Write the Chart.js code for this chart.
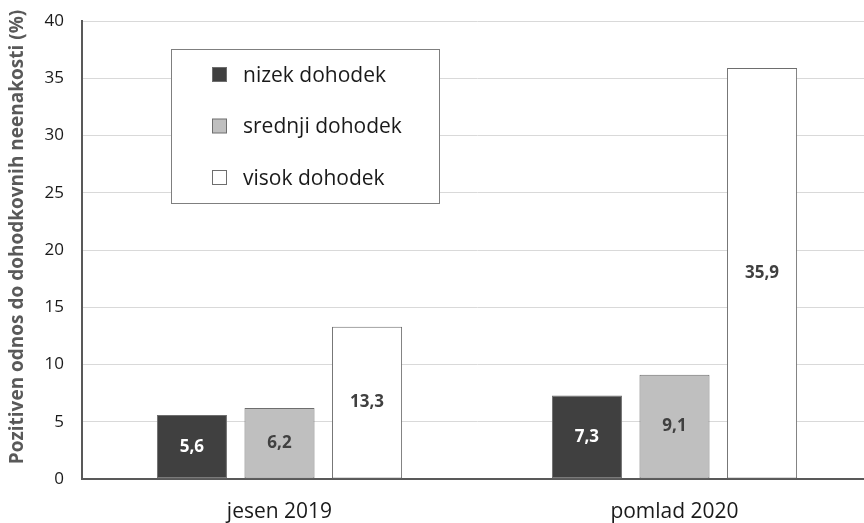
<!DOCTYPE html>
<html>
<head>
<meta charset="utf-8">
<script src="https://cdn.jsdelivr.net/npm/chart.js@4.4.0/dist/chart.umd.min.js"></script>
<style>
  html, body { margin: 0; padding: 0; background: #fff; overflow: hidden; }
  #wrap { width: 875px; height: 523px; }
</style>
</head>
<body>
<div id="wrap"><canvas id="chart"></canvas></div>
<script>
const categories = ['jesen 2019', 'pomlad 2020'];
const seriesNames = ['nizek dohodek', 'srednji dohodek', 'visok dohodek'];
const lowIncome = [5.6, 7.3];
const midIncome = [6.2, 9.1];
const highIncome = [13.3, 35.9];
const yTicks = [0, 5, 10, 15, 20, 25, 30, 35, 40];
const yTitle = 'Pozitiven odnos do dohodkovnih neenakosti (%)';

const fills = ['#404040', '#bfbfbf', '#ffffff'];
const labelColors = ['#ffffff', '#404040', '#404040'];
const FONT = "'Open Sans', sans-serif";

// value labels in the middle of each bar
const barLabels = {
    id: 'barLabels',
    afterDatasetsDraw(chart) {
        const ctx = chart.ctx;
        ctx.save();
        ctx.font = 'bold 17px ' + FONT;
        ctx.textAlign = 'center';
        ctx.textBaseline = 'middle';
        chart.data.datasets.forEach((ds, i) => {
            chart.getDatasetMeta(i).data.forEach((bar, j) => {
                const txt = ds.data[j].toFixed(1).replace('.', ',');
                ctx.fillStyle = labelColors[i];
                ctx.fillText(txt, bar.x, (bar.y + bar.base) / 2);
            });
        });
        ctx.restore();
    }
};

// boxed legend inside the plot area + rotated axis title
const boxLegend = {
    id: 'boxLegend',
    afterDraw(chart) {
        const ctx = chart.ctx;
        ctx.save();
        ctx.fillStyle = '#ffffff';
        ctx.fillRect(171, 49, 268, 154);
        ctx.strokeStyle = '#7f7f7f';
        ctx.lineWidth = 1;
        ctx.strokeRect(171.5, 49.5, 268, 154);
        ctx.font = '21px ' + FONT;
        ctx.textBaseline = 'middle';
        chart.data.datasets.forEach((ds, i) => {
            const cy = 75 + i * 51.5;
            ctx.fillStyle = fills[i];
            ctx.fillRect(212.5, cy - 7.5, 14, 14);
            ctx.strokeStyle = '#6e6e6e';
            ctx.strokeRect(212.5, cy - 7.5, 14, 14);
            ctx.fillStyle = '#1a1a1a';
            ctx.fillText(ds.label, 243, cy + 1);
        });

        ctx.translate(18, 237);
        ctx.rotate(-Math.PI / 2);
        ctx.textAlign = 'center';
        ctx.textBaseline = 'middle';
        ctx.font = 'bold 19px ' + FONT;
        ctx.fillStyle = '#595959';
        ctx.fillText(yTitle, 0, 0);
        ctx.restore();
    }
};

const makeSet = (i, data) => ({
    label: seriesNames[i],
    data: data,
    backgroundColor: fills[i],
    borderColor: '#6e6e6e',
    borderWidth: 1,
    borderSkipped: false,
    categoryPercentage: 0.665,
    barPercentage: 0.8,
});

new Chart(document.getElementById('chart'), {
    type: 'bar',
    data: {
        labels: categories,
        datasets: [
            makeSet(0, lowIncome),
            makeSet(1, midIncome),
            makeSet(2, highIncome),
        ],
    },
    options: {
        responsive: true,
        maintainAspectRatio: false,
        animation: false,
        layout: { padding: { top: 21, right: 3, left: 0, bottom: 0 } },
        plugins: {
            legend: { display: false },
            tooltip: { enabled: false },
        },
        scales: {
            x: {
                grid: { display: false },
                border: { color: '#595959', width: 2 },
                ticks: { color: '#1a1a1a', font: { family: FONT, size: 21 }, padding: 12 },
                afterFit(scale) { scale.height = 44; },
            },
            y: {
                min: 0,
                max: 40,
                afterBuildTicks(scale) { scale.ticks = yTicks.map(v => ({ value: v })); },
                grid: { color: '#d9d9d9', lineWidth: 1, drawTicks: true, tickLength: 18, tickColor: 'rgba(0,0,0,0)' },
                border: { color: '#595959', width: 2 },
                ticks: { color: '#1a1a1a', font: { family: FONT, size: 17 }, padding: 0 },
                afterFit(scale) { scale.width = 82; },
            },
        },
    },
    plugins: [barLabels, boxLegend],
});
</script>
</body>
</html>
